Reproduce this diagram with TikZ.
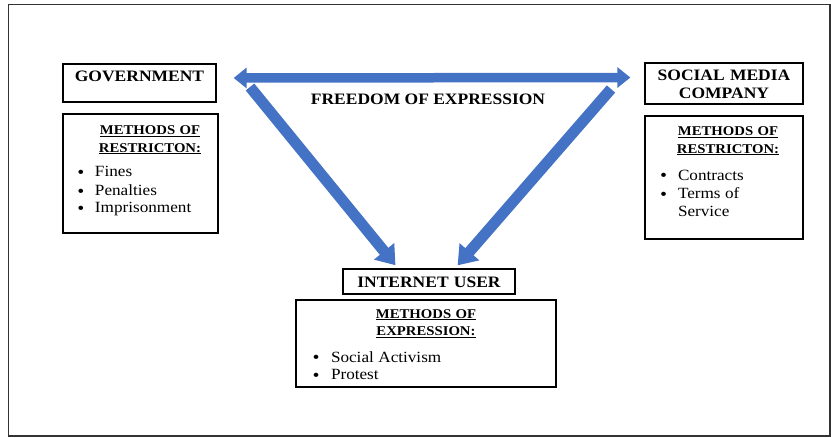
\documentclass[tikz,border=0pt]{standalone}
\usepackage{fontspec}
\setmainfont{Liberation Serif}[FakeStretch=1.1]
\usetikzlibrary{arrows.meta}

\definecolor{arrowblue}{HTML}{4472C4}
\newcommand{\hfont}{\fontsize{15.9}{18.3}\selectfont\bfseries}
\newcommand{\mfont}{\fontsize{13.4}{17.5}\selectfont\bfseries}
\newcommand{\ifont}{\fontsize{15.6}{18.6}\selectfont\mdseries}
\newcommand{\bul}[3]{\makebox[\linewidth][l]{\hspace*{#1}\makebox[#2][l]{\raisebox{-0.8pt}{\textbf{\textbullet}}}#3}}

\begin{document}
\begin{tikzpicture}[x=1pt,y=-1pt,
                    box/.style={draw,line width=1.3pt,inner sep=0pt,align=center,anchor=base},
                    freedom/.style={arrowblue,line width=9.5pt,{Triangle[length=13pt,width=20pt]}-{Triangle[length=13pt,width=20pt]}},
                    restrict/.style={arrowblue,line width=11pt,-{Triangle[length=18pt,width=25pt]},shorten >=4pt}]
\useasboundingbox (0,0) rectangle (831,437);
\draw[line width=1.3pt,black!80] (8.3,4.3) rectangle (830,436);

% the three parties
\node[box,text width=153pt,text height=17.5pt,text depth=20.5pt,font=\hfont] (gov) at (139.5,81.5) {GOVERNMENT};
\node[box,text width=158pt,text height=17pt,text depth=24pt,font=\hfont] (smc) at (724,80) {SOCIAL MEDIA\\COMPANY};
\node[box,text width=172pt,text height=18.3pt,text depth=6.7pt,font=\hfont] (usr) at (429,287.3) {INTERNET USER};

% methods under each party
\node[box,text width=155pt,text height=20.5pt,text depth=98.5pt,font=\mfont] (govm) at (140.5,134.5)
  {\hspace*{19pt}\underline{METHODS OF}\\\hspace*{19pt}\underline{RESTRICTON:}\par
   \vspace{6pt}\ifont
   \bul{15pt}{17pt}{Fines}\\\bul{15pt}{17pt}{Penalties}\\\bul{15pt}{17pt}{Imprisonment}};
\node[box,text width=158pt,text height=19.5pt,text depth=103.5pt,font=\mfont] (smcm) at (724,135.5)
  {\hspace*{8pt}\underline{METHODS OF}\\\hspace*{8pt}\underline{RESTRICTON:}\par
   \vspace{8.5pt}\ifont
   \bul{15.5pt}{17.5pt}{Contracts}\\\bul{15.5pt}{17.5pt}{Terms of}\\\makebox[\linewidth][l]{\hspace*{33pt}Service}};
\node[box,text width=260pt,text height=18pt,text depth=69pt,font=\mfont] (usrm) at (426,318)
  {\underline{METHODS OF}\\\underline{EXPRESSION:}\par
   \vspace{8pt}\ifont
   \bul{17pt}{18pt}{Social Activism}\\\bul{17pt}{18pt}{Protest}};

\node[font=\hfont,anchor=base] (foe) at (428,104.5) {FREEDOM OF EXPRESSION};

% arrows
\coordinate (gsrc) at (250,87);
\coordinate (ssrc) at (611,89);
\draw[freedom,shorten <=17pt,shorten >=14pt] ([yshift=5pt]gov.east) -- ([yshift=6pt]smc.west);
\draw[restrict] (gsrc) -- ([xshift=-31pt]usr.north);
\draw[restrict] (ssrc) -- ([xshift=26pt]usr.north);

\end{tikzpicture}
\end{document}
